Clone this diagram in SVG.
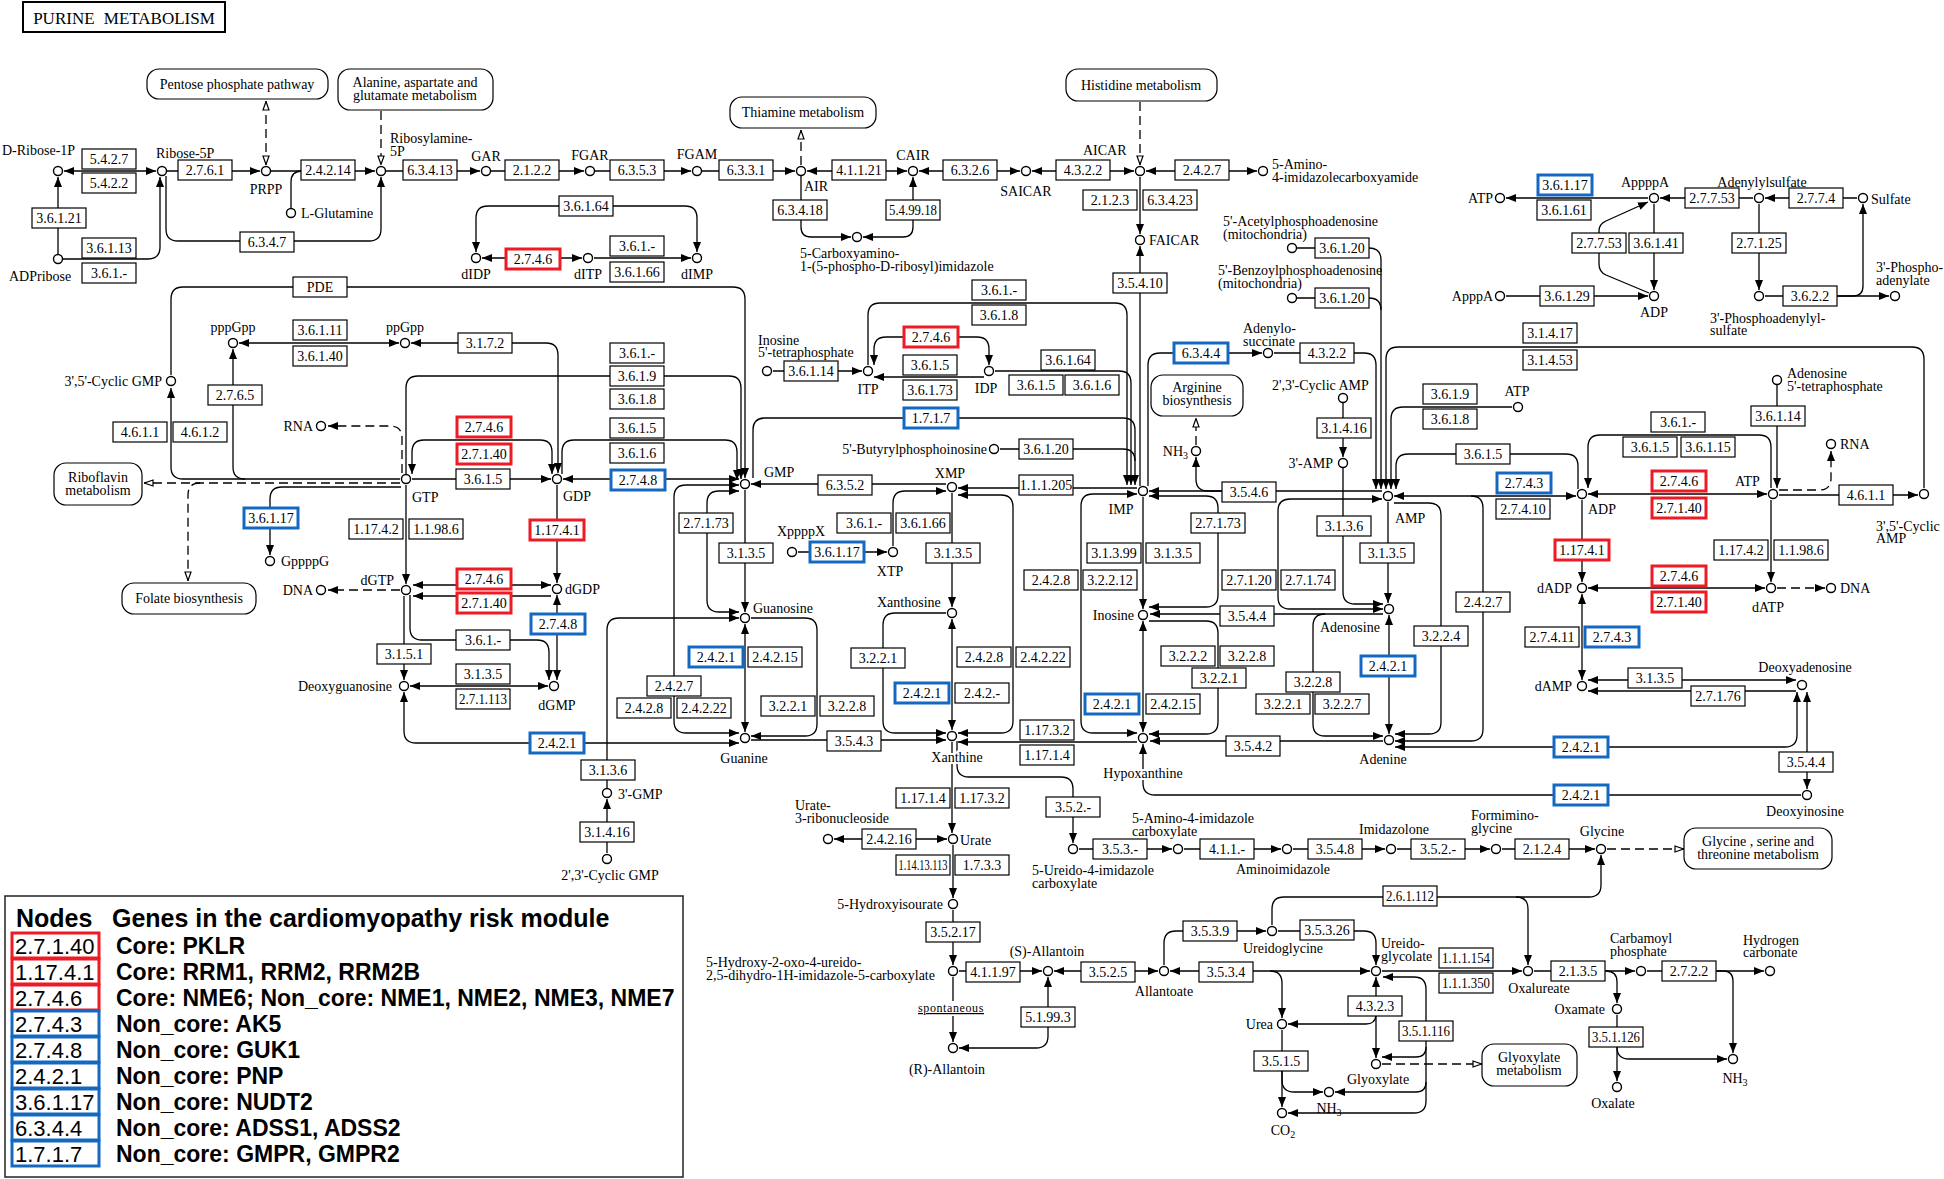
<svg xmlns="http://www.w3.org/2000/svg" width="1944" height="1179" viewBox="0 0 1944 1179">
<defs>
<style>
text{font-family:"Liberation Serif","Times New Roman",serif;font-size:14px;fill:#000}
.k rect{fill:#fff;stroke:#000;stroke-width:1.2}
.k text{text-anchor:middle}
.k.r rect{stroke:#ee1b24;stroke-width:3}
.k.b rect{stroke:#1568c1;stroke-width:3}
.n circle{fill:#fff;stroke:#000;stroke-width:1.4}
.m{text-anchor:middle}
.x{text-anchor:end}
.mp rect{fill:#fff;stroke:#000;stroke-width:1.2}
.mp text{text-anchor:middle}
.c path{fill:none;stroke:#000;stroke-width:1.3}
.c path.d{stroke-dasharray:9 5}
.e{marker-end:url(#a)}
.s{marker-start:url(#a)}
.he{marker-end:url(#h)}
.hs{marker-start:url(#h)}
.halo{paint-order:stroke;stroke:#fff;stroke-width:4px;stroke-linejoin:round}
.lg text{font-family:"Liberation Sans",Arial,sans-serif;fill:#000}
.lg .hd{font-size:25px;font-weight:bold}
.lg .ds{font-size:23px;font-weight:bold}
.lg .nm{font-size:22px}
.lg rect.rb{fill:#fff;stroke:#ee1b24;stroke-width:3}
.lg rect.bb{fill:#fff;stroke:#1568c1;stroke-width:3}
</style>
<marker id="a" viewBox="0 0 10 8" refX="10" refY="4" markerWidth="10" markerHeight="8" markerUnits="userSpaceOnUse" orient="auto-start-reverse"><path d="M0,0L10,4L0,8z" fill="#000"/></marker>
<marker id="h" viewBox="0 0 10 8" refX="10" refY="4" markerWidth="10" markerHeight="8" markerUnits="userSpaceOnUse" orient="auto-start-reverse"><path d="M1,1L9.5,4L1,7z" fill="#fff" stroke="#000" stroke-width="1.2"/></marker>
</defs>
<rect width="1944" height="1179" fill="#fff"/>

<g id="title"><rect x="23" y="2" width="202" height="30" fill="#fff" stroke="#000" stroke-width="2"/><text x="124" y="24" class="m" style="font-size:17px;word-spacing:5px">PURINE METABOLISM</text></g>

<g id="connectors" class="c">
<path class="s e" d="M64,171H156"/>
<path class="e" d="M167,171H260"/>
<path class="e" d="M271,171H375"/>
<path d="M291,208V182Q291,171 302,171"/>
<path class="e" d="M386,171H480"/>
<path class="e" d="M491,171H584"/>
<path class="e" d="M595,171H691"/>
<path class="e" d="M702,171H795"/>
<path class="s e" d="M807,171H907"/>
<path class="s e" d="M919,171H1020"/>
<path class="s e" d="M1032,171H1134"/>
<path class="s e" d="M1146,171H1257"/>
<path class="e" d="M58,254V177"/>
<path class="e" d="M63,259H148Q160,259 160,247V177"/>
<path class="e" d="M166,176V229Q166,241 178,241H369Q381,241 381,229V177"/>
<path class="d hs he" d="M266,101V165"/>
<path class="d he" d="M381,111V165"/>
<path class="d he" d="M801,165V130"/>
<path class="d he" d="M1140,102V165"/>
<path class="e" d="M801,176V227Q801,237 811,237H851"/>
<path class="s e" d="M863,237H903Q913,237 913,227V177"/>
<path class="e" d="M1140,177V234"/>
<path class="e" d="M1140,486V246"/>
<path class="s e" d="M482,258H582"/>
<path class="e" d="M594,258H691"/>
<path class="s e" d="M476,252V218Q476,206 488,206H685Q697,206 697,218V252"/>
<path class="e" d="M1648,198H1506"/>
<path class="e" d="M1753,198H1660"/>
<path class="e" d="M1857,198H1765"/>
<path class="e" d="M1759,204V290"/>
<path class="e" d="M1654,204V290"/>
<path class="e" d="M1649,293L1606,275Q1599,272 1599,264V231Q1599,224 1606,221L1648,202"/>
<path class="e" d="M1506,296H1648"/>
<path class="e" d="M1765,296H1889"/>
<path class="e" d="M1838,296H1853Q1863,296 1863,286V204"/>
<path class="e" d="M1924,488V359Q1924,347 1912,347H1398Q1386,347 1386,359V489"/>
<path class="e" d="M1297,248H1369Q1381,248 1381,260V489"/>
<path d="M1297,298H1369Q1381,298 1381,310"/>
<path class="e" d="M1148,486V365Q1148,353 1160,353H1262"/>
<path class="e" d="M1274,353H1364Q1376,353 1376,365V489"/>
<path class="e" d="M1512,407H1403Q1391,407 1391,419V489"/>
<path class="e" d="M1578,489V466Q1578,454 1566,454H1408Q1396,454 1396,466V489"/>
<path class="e" d="M1343,403V457"/>
<path class="e" d="M1343,468V592Q1343,604 1355,604H1383"/>
<path class="d he" d="M1196,445V418"/>
<path class="e" d="M1382,491H1149"/>
<path class="e" d="M1236,491H1208Q1196,491 1196,479V457"/>
<path class="e" d="M171,375V299Q171,287 183,287H733Q745,287 745,299V478"/>
<path class="e" d="M406,474V388Q406,376 418,376H729Q741,376 741,388V479"/>
<path class="e" d="M562,474V452Q562,440 574,440H725Q737,440 737,452V480"/>
<path class="s e" d="M412,474V452Q412,440 424,440H540Q552,440 552,452V474"/>
<path class="e" d="M412,479H551"/>
<path class="s e" d="M563,479H739"/>
<path class="s e" d="M411,343H546Q558,343 558,355V473"/>
<path class="s e" d="M239,343H399"/>
<path class="e" d="M400,479H245Q233,479 233,467V349"/>
<path class="e" d="M245,479H183Q171,479 171,467V388"/>
<path class="d e" d="M402,473V438Q402,426 390,426H328"/>
<path class="d he" d="M400,483H144"/>
<path class="d he" d="M200,483Q188,483 188,495V581"/>
<path class="e" d="M401,487H282Q270,487 270,499V555"/>
<path class="e" d="M406,485V584"/>
<path class="e" d="M557,485V583"/>
<path class="s e" d="M413,585H551"/>
<path class="e" d="M551,596H413"/>
<path class="d e" d="M400,590H328"/>
<path class="s e" d="M557,595V680"/>
<path class="e" d="M410,595V628Q410,640 422,640H537Q549,640 549,652V680"/>
<path class="e" d="M404,596V680"/>
<path class="s e" d="M410,686H548"/>
<path class="s e" d="M404,692V731Q404,743 416,743H739"/>
<path class="e" d="M946,484H751"/>
<path class="e" d="M745,490V612"/>
<path class="s e" d="M739,491H719Q707,491 707,503V600Q707,612 719,612H739"/>
<path class="s e" d="M739,485H686Q674,485 674,497V721Q674,733 686,733H739"/>
<path class="s e" d="M745,624V732"/>
<path class="e" d="M751,618H805Q817,618 817,630V724Q817,736 805,736H751"/>
<path class="e" d="M751,740H946"/>
<path class="e" d="M607,788V630Q607,618 619,618H739"/>
<path class="e" d="M607,853V799"/>
<path class="e" d="M753,478V430Q753,418 765,418H1123Q1135,418 1135,430V485"/>
<path class="e" d="M1137,488H958"/>
<path class="e" d="M893,546V503Q893,491 905,491H946"/>
<path class="e" d="M798,552H887"/>
<path class="e" d="M952,493V607"/>
<path class="s e" d="M952,619V730"/>
<path class="s e" d="M958,495H1001Q1013,495 1013,507V721Q1013,733 1001,733H958"/>
<path class="e" d="M946,613H895Q883,613 883,625V721Q883,733 895,733H946"/>
<path class="e" d="M1137,742H958"/>
<path class="e" d="M952,742V833"/>
<path class="e" d="M957,741V765Q957,777 969,777H1061Q1073,777 1073,789V843"/>
<path class="e" d="M868,365V315Q868,303 880,303H1115Q1127,303 1127,315V485"/>
<path class="e" d="M995,371H1119Q1131,371 1131,383V485"/>
<path d="M1000,449H1123Q1135,449 1135,461"/>
<path class="e" d="M984,377H874"/>
<path class="s e" d="M874,365V349Q874,337 886,337H977Q989,337 989,349V365"/>
<path class="e" d="M773,371H862"/>
<path class="s e" d="M1137,494H1093Q1081,494 1081,506V721Q1081,733 1093,733H1137"/>
<path class="e" d="M1143,497V609"/>
<path class="s e" d="M1149,496H1206Q1218,496 1218,508V595Q1218,607 1206,607H1149"/>
<path class="s e" d="M1143,621V732"/>
<path class="e" d="M1149,621H1206Q1218,621 1218,633V722Q1218,734 1206,734H1149"/>
<path class="e" d="M1383,614H1150"/>
<path class="e" d="M1325,614Q1313,614 1313,626V724Q1313,736 1325,736H1383"/>
<path class="e" d="M1383,741H1150"/>
<path class="s e" d="M1389,615V734"/>
<path class="e" d="M1388,502V603"/>
<path class="s e" d="M1382,499H1290Q1278,499 1278,511V597Q1278,609 1290,609H1383"/>
<path class="e" d="M1394,503H1429Q1441,503 1441,515V722Q1441,734 1429,734H1395"/>
<path class="e" d="M1471,496Q1483,496 1483,508V729Q1483,741 1471,741H1395"/>
<path class="s e" d="M1395,747H1785Q1797,747 1797,735V692"/>
<path class="s e" d="M1394,496H1576"/>
<path class="s e" d="M1588,494H1767"/>
<path class="e" d="M1771,488V447Q1771,435 1759,435H1600Q1588,435 1588,447V488"/>
<path class="e" d="M1777,385V488"/>
<path class="d e" d="M1779,490H1819Q1831,490 1831,478V451"/>
<path class="e" d="M1779,495H1918"/>
<path class="e" d="M1582,500V582"/>
<path class="e" d="M1771,500V582"/>
<path class="s e" d="M1588,588H1765"/>
<path class="d e" d="M1777,588H1825"/>
<path class="s e" d="M1582,594V680"/>
<path class="s e" d="M1588,680H1796"/>
<path class="e" d="M1796,691H1588"/>
<path class="s e" d="M1807,692V789"/>
<path class="e" d="M1801,795H1155Q1143,795 1143,783V744"/>
<path class="s e" d="M834,839H947"/>
<path class="e" d="M953,845V898"/>
<path class="e" d="M953,910V965"/>
<path class="e" d="M959,971H1042"/>
<path d="M953,977V1001"/>
<path class="e" d="M953,1016V1042"/>
<path class="s e" d="M1048,977V1036Q1048,1048 1036,1048H959"/>
<path class="s e" d="M1054,971H1158"/>
<path class="s e" d="M1170,971H1370"/>
<path class="e" d="M1164,965V943Q1164,931 1176,931H1266"/>
<path class="e" d="M1278,931H1364Q1376,931 1376,943V965"/>
<path class="e" d="M1272,925V909Q1272,897 1284,897H1589Q1601,897 1601,885V855"/>
<path class="e" d="M1516,897Q1528,897 1528,909V965"/>
<path class="e" d="M1382,971H1522"/>
<path class="e" d="M1534,971H1635"/>
<path class="e" d="M1606,971Q1617,971 1617,982V1003"/>
<path class="e" d="M1617,1015V1081"/>
<path class="e" d="M1617,1047Q1617,1059 1629,1059H1727"/>
<path class="e" d="M1647,971H1764"/>
<path class="e" d="M1717,971H1723Q1733,971 1733,981V1053"/>
<path class="d he" d="M1607,849H1684"/>
<path class="e" d="M1270,971Q1282,971 1282,983V1018"/>
<path class="s e" d="M1376,977V1058"/>
<path class="e" d="M1376,1014Q1376,1024 1366,1024H1288"/>
<path class="s e" d="M1383,977H1414Q1426,977 1426,989V1101Q1426,1113 1414,1113H1288"/>
<path class="e" d="M1426,1047Q1426,1057 1416,1057H1382"/>
<path class="e" d="M1426,1082Q1426,1092 1416,1092H1335"/>
<path class="e" d="M1282,1030V1107"/>
<path class="e" d="M1282,1071V1080Q1282,1092 1294,1092H1323"/>
<path class="d he" d="M1382,1064H1482"/>
<path class="e" d="M1079,849H1172"/>
<path class="e" d="M1184,849H1281"/>
<path class="e" d="M1293,849H1385"/>
<path class="e" d="M1397,849H1490"/>
<path class="e" d="M1502,849H1595"/>
</g>

<g id="maps">
<g id="m1" class="mp"><rect x="147" y="69" width="181" height="30" rx="12"/><text x="237" y="89">Pentose phosphate pathway</text></g>
<g id="m2" class="mp"><rect x="338" y="69" width="155" height="41" rx="12"/><text x="415" y="87">Alanine, aspartate and</text><text x="415" y="100">glutamate metabolism</text></g>
<g id="m3" class="mp"><rect x="730" y="97" width="146" height="31" rx="12"/><text x="803" y="117">Thiamine metabolism</text></g>
<g id="m4" class="mp"><rect x="1066" y="69" width="151" height="32" rx="12"/><text x="1141" y="90">Histidine metabolism</text></g>
<g id="m5" class="mp"><rect x="54" y="463" width="88" height="42" rx="12"/><text x="98" y="482">Riboflavin</text><text x="98" y="495">metabolism</text></g>
<g id="m6" class="mp"><rect x="122" y="583" width="134" height="31" rx="12"/><text x="189" y="603">Folate biosynthesis</text></g>
<g id="m7" class="mp"><rect x="1151" y="375" width="92" height="41" rx="12"/><text x="1197" y="392">Arginine</text><text x="1197" y="405">biosynthesis</text></g>
<g id="m8" class="mp"><rect x="1684" y="828" width="148" height="41" rx="12"/><text x="1758" y="846">Glycine , serine and</text><text x="1758" y="859">threonine metabolism</text></g>
<g id="m9" class="mp"><rect x="1482" y="1044" width="95" height="42" rx="12"/><text x="1529" y="1062">Glyoxylate</text><text x="1529" y="1075">metabolism</text></g>
</g>

<g id="enzymes">
<g id="e1" class="k"><rect x="82" y="149" width="54" height="20"/><text x="109" y="164">5.4.2.7</text></g>
<g id="e2" class="k"><rect x="82" y="173" width="54" height="20"/><text x="109" y="188">5.4.2.2</text></g>
<g id="e3" class="k"><rect x="178" y="160" width="54" height="20"/><text x="205" y="175">2.7.6.1</text></g>
<g id="e4" class="k"><rect x="301" y="160" width="54" height="20"/><text x="328" y="175">2.4.2.14</text></g>
<g id="e5" class="k"><rect x="403" y="160" width="54" height="20"/><text x="430" y="175">6.3.4.13</text></g>
<g id="e6" class="k"><rect x="505" y="160" width="54" height="20"/><text x="532" y="175">2.1.2.2</text></g>
<g id="e7" class="k"><rect x="610" y="160" width="54" height="20"/><text x="637" y="175">6.3.5.3</text></g>
<g id="e8" class="k"><rect x="719" y="160" width="54" height="20"/><text x="746" y="175">6.3.3.1</text></g>
<g id="e9" class="k"><rect x="832" y="160" width="54" height="20"/><text x="859" y="175">4.1.1.21</text></g>
<g id="e10" class="k"><rect x="943" y="160" width="54" height="20"/><text x="970" y="175">6.3.2.6</text></g>
<g id="e11" class="k"><rect x="1056" y="160" width="54" height="20"/><text x="1083" y="175">4.3.2.2</text></g>
<g id="e12" class="k"><rect x="1175" y="160" width="54" height="20"/><text x="1202" y="175">2.4.2.7</text></g>
<g id="e13" class="k"><rect x="32" y="208" width="54" height="20"/><text x="59" y="223">3.6.1.21</text></g>
<g id="e14" class="k"><rect x="82" y="238" width="54" height="20"/><text x="109" y="253">3.6.1.13</text></g>
<g id="e15" class="k"><rect x="82" y="263" width="54" height="20"/><text x="109" y="278">3.6.1.-</text></g>
<g id="e16" class="k"><rect x="240" y="232" width="54" height="20"/><text x="267" y="247">6.3.4.7</text></g>
<g id="e17" class="k"><rect x="773" y="200" width="54" height="20"/><text x="800" y="215">6.3.4.18</text></g>
<g id="e18" class="k"><rect x="886" y="200" width="54" height="20"/><text x="913" y="215" textLength="48" lengthAdjust="spacingAndGlyphs">5.4.99.18</text></g>
<g id="e19" class="k"><rect x="1083" y="190" width="54" height="20"/><text x="1110" y="205">2.1.2.3</text></g>
<g id="e20" class="k"><rect x="1143" y="190" width="54" height="20"/><text x="1170" y="205">6.3.4.23</text></g>
<g id="e21" class="k"><rect x="1113" y="273" width="54" height="20"/><text x="1140" y="288">3.5.4.10</text></g>
<g id="e22" class="k"><rect x="559" y="196" width="54" height="20"/><text x="586" y="211">3.6.1.64</text></g>
<g id="e23" class="k r"><rect x="506" y="249" width="54" height="20"/><text x="533" y="264">2.7.4.6</text></g>
<g id="e24" class="k"><rect x="610" y="236" width="54" height="20"/><text x="637" y="251">3.6.1.-</text></g>
<g id="e25" class="k"><rect x="610" y="262" width="54" height="20"/><text x="637" y="277">3.6.1.66</text></g>
<g id="e26" class="k"><rect x="1315" y="238" width="54" height="20"/><text x="1342" y="253">3.6.1.20</text></g>
<g id="e27" class="k"><rect x="1315" y="288" width="54" height="20"/><text x="1342" y="303">3.6.1.20</text></g>
<g id="e28" class="k b"><rect x="1538" y="175" width="54" height="20"/><text x="1565" y="190">3.6.1.17</text></g>
<g id="e29" class="k"><rect x="1537" y="200" width="54" height="20"/><text x="1564" y="215">3.6.1.61</text></g>
<g id="e30" class="k"><rect x="1685" y="188" width="54" height="20"/><text x="1712" y="203">2.7.7.53</text></g>
<g id="e31" class="k"><rect x="1789" y="188" width="54" height="20"/><text x="1816" y="203">2.7.7.4</text></g>
<g id="e32" class="k"><rect x="1572" y="233" width="54" height="20"/><text x="1599" y="248">2.7.7.53</text></g>
<g id="e33" class="k"><rect x="1629" y="233" width="54" height="20"/><text x="1656" y="248">3.6.1.41</text></g>
<g id="e34" class="k"><rect x="1732" y="233" width="54" height="20"/><text x="1759" y="248">2.7.1.25</text></g>
<g id="e35" class="k"><rect x="1540" y="286" width="54" height="20"/><text x="1567" y="301">3.6.1.29</text></g>
<g id="e36" class="k"><rect x="1783" y="286" width="54" height="20"/><text x="1810" y="301">3.6.2.2</text></g>
<g id="e37" class="k"><rect x="1523" y="323" width="54" height="20"/><text x="1550" y="338">3.1.4.17</text></g>
<g id="e38" class="k"><rect x="1523" y="350" width="54" height="20"/><text x="1550" y="365">3.1.4.53</text></g>
<g id="e39" class="k"><rect x="293" y="277" width="54" height="20"/><text x="320" y="292">PDE</text></g>
<g id="e40" class="k"><rect x="293" y="320" width="54" height="20"/><text x="320" y="335">3.6.1.11</text></g>
<g id="e41" class="k"><rect x="293" y="346" width="54" height="20"/><text x="320" y="361">3.6.1.40</text></g>
<g id="e42" class="k"><rect x="458" y="333" width="54" height="20"/><text x="485" y="348">3.1.7.2</text></g>
<g id="e43" class="k"><rect x="610" y="343" width="54" height="20"/><text x="637" y="358">3.6.1.-</text></g>
<g id="e44" class="k"><rect x="610" y="366" width="54" height="20"/><text x="637" y="381">3.6.1.9</text></g>
<g id="e45" class="k"><rect x="610" y="389" width="54" height="20"/><text x="637" y="404">3.6.1.8</text></g>
<g id="e46" class="k"><rect x="784" y="361" width="54" height="20"/><text x="811" y="376">3.6.1.14</text></g>
<g id="e47" class="k r"><rect x="904" y="327" width="54" height="20"/><text x="931" y="342">2.7.4.6</text></g>
<g id="e48" class="k"><rect x="903" y="355" width="54" height="20"/><text x="930" y="370">3.6.1.5</text></g>
<g id="e49" class="k"><rect x="903" y="380" width="54" height="20"/><text x="930" y="395">3.6.1.73</text></g>
<g id="e50" class="k"><rect x="972" y="280" width="54" height="20"/><text x="999" y="295">3.6.1.-</text></g>
<g id="e51" class="k"><rect x="972" y="305" width="54" height="20"/><text x="999" y="320">3.6.1.8</text></g>
<g id="e52" class="k"><rect x="1041" y="350" width="54" height="20"/><text x="1068" y="365">3.6.1.64</text></g>
<g id="e53" class="k"><rect x="1009" y="375" width="54" height="20"/><text x="1036" y="390">3.6.1.5</text></g>
<g id="e54" class="k"><rect x="1065" y="375" width="54" height="20"/><text x="1092" y="390">3.6.1.6</text></g>
<g id="e55" class="k b"><rect x="1174" y="343" width="54" height="20"/><text x="1201" y="358">6.3.4.4</text></g>
<g id="e56" class="k"><rect x="1300" y="343" width="54" height="20"/><text x="1327" y="358">4.3.2.2</text></g>
<g id="e57" class="k"><rect x="208" y="385" width="54" height="20"/><text x="235" y="400">2.7.6.5</text></g>
<g id="e58" class="k"><rect x="113" y="422" width="54" height="20"/><text x="140" y="437">4.6.1.1</text></g>
<g id="e59" class="k"><rect x="173" y="422" width="54" height="20"/><text x="200" y="437">4.6.1.2</text></g>
<g id="e60" class="k r"><rect x="457" y="417" width="54" height="20"/><text x="484" y="432">2.7.4.6</text></g>
<g id="e61" class="k r"><rect x="457" y="444" width="54" height="20"/><text x="484" y="459">2.7.1.40</text></g>
<g id="e62" class="k"><rect x="456" y="469" width="54" height="20"/><text x="483" y="484">3.6.1.5</text></g>
<g id="e63" class="k"><rect x="610" y="418" width="54" height="20"/><text x="637" y="433">3.6.1.5</text></g>
<g id="e64" class="k"><rect x="610" y="443" width="54" height="20"/><text x="637" y="458">3.6.1.6</text></g>
<g id="e65" class="k b"><rect x="611" y="470" width="54" height="20"/><text x="638" y="485">2.7.4.8</text></g>
<g id="e66" class="k b"><rect x="904" y="408" width="54" height="20"/><text x="931" y="423">1.7.1.7</text></g>
<g id="e67" class="k"><rect x="1019" y="439" width="54" height="20"/><text x="1046" y="454">3.6.1.20</text></g>
<g id="e68" class="k"><rect x="818" y="475" width="54" height="20"/><text x="845" y="490">6.3.5.2</text></g>
<g id="e69" class="k"><rect x="1019" y="475" width="54" height="20"/><text x="1046" y="490">1.1.1.205</text></g>
<g id="e70" class="k"><rect x="1222" y="482" width="54" height="20"/><text x="1249" y="497">3.5.4.6</text></g>
<g id="e71" class="k"><rect x="1317" y="418" width="54" height="20"/><text x="1344" y="433">3.1.4.16</text></g>
<g id="e72" class="k"><rect x="1423" y="384" width="54" height="20"/><text x="1450" y="399">3.6.1.9</text></g>
<g id="e73" class="k"><rect x="1423" y="409" width="54" height="20"/><text x="1450" y="424">3.6.1.8</text></g>
<g id="e74" class="k"><rect x="1456" y="444" width="54" height="20"/><text x="1483" y="459">3.6.1.5</text></g>
<g id="e75" class="k b"><rect x="1497" y="473" width="54" height="20"/><text x="1524" y="488">2.7.4.3</text></g>
<g id="e76" class="k"><rect x="1496" y="499" width="54" height="20"/><text x="1523" y="514">2.7.4.10</text></g>
<g id="e77" class="k"><rect x="1651" y="412" width="54" height="20"/><text x="1678" y="427">3.6.1.-</text></g>
<g id="e78" class="k"><rect x="1623" y="437" width="54" height="20"/><text x="1650" y="452">3.6.1.5</text></g>
<g id="e79" class="k"><rect x="1681" y="437" width="54" height="20"/><text x="1708" y="452">3.6.1.15</text></g>
<g id="e80" class="k"><rect x="1751" y="406" width="54" height="20"/><text x="1778" y="421">3.6.1.14</text></g>
<g id="e81" class="k r"><rect x="1652" y="471" width="54" height="20"/><text x="1679" y="486">2.7.4.6</text></g>
<g id="e82" class="k r"><rect x="1652" y="498" width="54" height="20"/><text x="1679" y="513">2.7.1.40</text></g>
<g id="e83" class="k"><rect x="1839" y="485" width="54" height="20"/><text x="1866" y="500">4.6.1.1</text></g>
<g id="e84" class="k b"><rect x="244" y="508" width="54" height="20"/><text x="271" y="523">3.6.1.17</text></g>
<g id="e85" class="k"><rect x="349" y="519" width="54" height="20"/><text x="376" y="534">1.17.4.2</text></g>
<g id="e86" class="k"><rect x="409" y="519" width="54" height="20"/><text x="436" y="534">1.1.98.6</text></g>
<g id="e87" class="k r"><rect x="530" y="520" width="54" height="20"/><text x="557" y="535">1.17.4.1</text></g>
<g id="e88" class="k"><rect x="679" y="513" width="54" height="20"/><text x="706" y="528">2.7.1.73</text></g>
<g id="e89" class="k"><rect x="719" y="543" width="54" height="20"/><text x="746" y="558">3.1.3.5</text></g>
<g id="e90" class="k b"><rect x="810" y="542" width="54" height="20"/><text x="837" y="557">3.6.1.17</text></g>
<g id="e91" class="k"><rect x="837" y="513" width="54" height="20"/><text x="864" y="528">3.6.1.-</text></g>
<g id="e92" class="k"><rect x="896" y="513" width="54" height="20"/><text x="923" y="528">3.6.1.66</text></g>
<g id="e93" class="k"><rect x="926" y="543" width="54" height="20"/><text x="953" y="558">3.1.3.5</text></g>
<g id="e94" class="k"><rect x="1191" y="513" width="54" height="20"/><text x="1218" y="528">2.7.1.73</text></g>
<g id="e95" class="k"><rect x="1317" y="516" width="54" height="20"/><text x="1344" y="531">3.1.3.6</text></g>
<g id="e96" class="k"><rect x="1087" y="543" width="54" height="20"/><text x="1114" y="558">3.1.3.99</text></g>
<g id="e97" class="k"><rect x="1146" y="543" width="54" height="20"/><text x="1173" y="558">3.1.3.5</text></g>
<g id="e98" class="k"><rect x="1360" y="543" width="54" height="20"/><text x="1387" y="558">3.1.3.5</text></g>
<g id="e99" class="k"><rect x="1024" y="570" width="54" height="20"/><text x="1051" y="585">2.4.2.8</text></g>
<g id="e100" class="k"><rect x="1083" y="570" width="54" height="20"/><text x="1110" y="585">3.2.2.12</text></g>
<g id="e101" class="k"><rect x="1222" y="570" width="54" height="20"/><text x="1249" y="585">2.7.1.20</text></g>
<g id="e102" class="k"><rect x="1281" y="570" width="54" height="20"/><text x="1308" y="585">2.7.1.74</text></g>
<g id="e103" class="k r"><rect x="1555" y="540" width="54" height="20"/><text x="1582" y="555">1.17.4.1</text></g>
<g id="e104" class="k"><rect x="1714" y="540" width="54" height="20"/><text x="1741" y="555">1.17.4.2</text></g>
<g id="e105" class="k"><rect x="1774" y="540" width="54" height="20"/><text x="1801" y="555">1.1.98.6</text></g>
<g id="e106" class="k r"><rect x="457" y="569" width="54" height="20"/><text x="484" y="584">2.7.4.6</text></g>
<g id="e107" class="k r"><rect x="457" y="593" width="54" height="20"/><text x="484" y="608">2.7.1.40</text></g>
<g id="e108" class="k b"><rect x="531" y="614" width="54" height="20"/><text x="558" y="629">2.7.4.8</text></g>
<g id="e109" class="k"><rect x="456" y="630" width="54" height="20"/><text x="483" y="645">3.6.1.-</text></g>
<g id="e110" class="k"><rect x="377" y="644" width="54" height="20"/><text x="404" y="659">3.1.5.1</text></g>
<g id="e111" class="k"><rect x="456" y="664" width="54" height="20"/><text x="483" y="679">3.1.3.5</text></g>
<g id="e112" class="k"><rect x="456" y="689" width="54" height="20"/><text x="483" y="704" textLength="48" lengthAdjust="spacingAndGlyphs">2.7.1.113</text></g>
<g id="e113" class="k b"><rect x="689" y="647" width="54" height="20"/><text x="716" y="662">2.4.2.1</text></g>
<g id="e114" class="k"><rect x="748" y="647" width="54" height="20"/><text x="775" y="662">2.4.2.15</text></g>
<g id="e115" class="k"><rect x="851" y="648" width="54" height="20"/><text x="878" y="663">3.2.2.1</text></g>
<g id="e116" class="k"><rect x="957" y="647" width="54" height="20"/><text x="984" y="662">2.4.2.8</text></g>
<g id="e117" class="k"><rect x="1016" y="647" width="54" height="20"/><text x="1043" y="662">2.4.2.22</text></g>
<g id="e118" class="k b"><rect x="895" y="683" width="54" height="20"/><text x="922" y="698">2.4.2.1</text></g>
<g id="e119" class="k"><rect x="955" y="683" width="54" height="20"/><text x="982" y="698">2.4.2.-</text></g>
<g id="e120" class="k"><rect x="647" y="676" width="54" height="20"/><text x="674" y="691">2.4.2.7</text></g>
<g id="e121" class="k"><rect x="617" y="698" width="54" height="20"/><text x="644" y="713">2.4.2.8</text></g>
<g id="e122" class="k"><rect x="677" y="698" width="54" height="20"/><text x="704" y="713">2.4.2.22</text></g>
<g id="e123" class="k"><rect x="761" y="696" width="54" height="20"/><text x="788" y="711">3.2.2.1</text></g>
<g id="e124" class="k"><rect x="820" y="696" width="54" height="20"/><text x="847" y="711">3.2.2.8</text></g>
<g id="e125" class="k"><rect x="827" y="731" width="54" height="20"/><text x="854" y="746">3.5.4.3</text></g>
<g id="e126" class="k b"><rect x="530" y="733" width="54" height="20"/><text x="557" y="748">2.4.2.1</text></g>
<g id="e127" class="k"><rect x="581" y="760" width="54" height="20"/><text x="608" y="775">3.1.3.6</text></g>
<g id="e128" class="k"><rect x="580" y="822" width="54" height="20"/><text x="607" y="837">3.1.4.16</text></g>
<g id="e129" class="k"><rect x="1220" y="606" width="54" height="20"/><text x="1247" y="621">3.5.4.4</text></g>
<g id="e130" class="k"><rect x="1414" y="626" width="54" height="20"/><text x="1441" y="641">3.2.2.4</text></g>
<g id="e131" class="k"><rect x="1456" y="592" width="54" height="20"/><text x="1483" y="607">2.4.2.7</text></g>
<g id="e132" class="k r"><rect x="1652" y="566" width="54" height="20"/><text x="1679" y="581">2.7.4.6</text></g>
<g id="e133" class="k r"><rect x="1652" y="592" width="54" height="20"/><text x="1679" y="607">2.7.1.40</text></g>
<g id="e134" class="k"><rect x="1525" y="627" width="54" height="20"/><text x="1552" y="642">2.7.4.11</text></g>
<g id="e135" class="k b"><rect x="1585" y="627" width="54" height="20"/><text x="1612" y="642">2.7.4.3</text></g>
<g id="e136" class="k"><rect x="1628" y="668" width="54" height="20"/><text x="1655" y="683">3.1.3.5</text></g>
<g id="e137" class="k"><rect x="1691" y="686" width="54" height="20"/><text x="1718" y="701">2.7.1.76</text></g>
<g id="e138" class="k"><rect x="1161" y="646" width="54" height="20"/><text x="1188" y="661">3.2.2.2</text></g>
<g id="e139" class="k"><rect x="1220" y="646" width="54" height="20"/><text x="1247" y="661">3.2.2.8</text></g>
<g id="e140" class="k"><rect x="1192" y="668" width="54" height="20"/><text x="1219" y="683">3.2.2.1</text></g>
<g id="e141" class="k b"><rect x="1361" y="656" width="54" height="20"/><text x="1388" y="671">2.4.2.1</text></g>
<g id="e142" class="k"><rect x="1286" y="672" width="54" height="20"/><text x="1313" y="687">3.2.2.8</text></g>
<g id="e143" class="k"><rect x="1256" y="694" width="54" height="20"/><text x="1283" y="709">3.2.2.1</text></g>
<g id="e144" class="k"><rect x="1315" y="694" width="54" height="20"/><text x="1342" y="709">3.2.2.7</text></g>
<g id="e145" class="k b"><rect x="1085" y="694" width="54" height="20"/><text x="1112" y="709">2.4.2.1</text></g>
<g id="e146" class="k"><rect x="1146" y="694" width="54" height="20"/><text x="1173" y="709">2.4.2.15</text></g>
<g id="e147" class="k"><rect x="1020" y="720" width="54" height="20"/><text x="1047" y="735">1.17.3.2</text></g>
<g id="e148" class="k"><rect x="1020" y="745" width="54" height="20"/><text x="1047" y="760">1.17.1.4</text></g>
<g id="e149" class="k"><rect x="1226" y="736" width="54" height="20"/><text x="1253" y="751">3.5.4.2</text></g>
<g id="e150" class="k b"><rect x="1554" y="737" width="54" height="20"/><text x="1581" y="752">2.4.2.1</text></g>
<g id="e151" class="k"><rect x="1779" y="752" width="54" height="20"/><text x="1806" y="767">3.5.4.4</text></g>
<g id="e152" class="k b"><rect x="1554" y="785" width="54" height="20"/><text x="1581" y="800">2.4.2.1</text></g>
<g id="e153" class="k"><rect x="896" y="788" width="54" height="20"/><text x="923" y="803">1.17.1.4</text></g>
<g id="e154" class="k"><rect x="955" y="788" width="54" height="20"/><text x="982" y="803">1.17.3.2</text></g>
<g id="e155" class="k"><rect x="1046" y="797" width="54" height="20"/><text x="1073" y="812">3.5.2.-</text></g>
<g id="e156" class="k"><rect x="862" y="829" width="54" height="20"/><text x="889" y="844">2.4.2.16</text></g>
<g id="e157" class="k"><rect x="896" y="855" width="54" height="20"/><text x="923" y="870" textLength="49" lengthAdjust="spacingAndGlyphs">1.14.13.113</text></g>
<g id="e158" class="k"><rect x="955" y="855" width="54" height="20"/><text x="982" y="870">1.7.3.3</text></g>
<g id="e159" class="k"><rect x="1093" y="839" width="54" height="20"/><text x="1120" y="854">3.5.3.-</text></g>
<g id="e160" class="k"><rect x="1200" y="839" width="54" height="20"/><text x="1227" y="854">4.1.1.-</text></g>
<g id="e161" class="k"><rect x="1308" y="839" width="54" height="20"/><text x="1335" y="854">3.5.4.8</text></g>
<g id="e162" class="k"><rect x="1411" y="839" width="54" height="20"/><text x="1438" y="854">3.5.2.-</text></g>
<g id="e163" class="k"><rect x="1515" y="839" width="54" height="20"/><text x="1542" y="854">2.1.2.4</text></g>
<g id="e164" class="k"><rect x="1383" y="886" width="54" height="20"/><text x="1410" y="901" textLength="48" lengthAdjust="spacingAndGlyphs">2.6.1.112</text></g>
<g id="e165" class="k"><rect x="926" y="922" width="54" height="20"/><text x="953" y="937">3.5.2.17</text></g>
<g id="e166" class="k"><rect x="966" y="962" width="54" height="20"/><text x="993" y="977">4.1.1.97</text></g>
<g id="e167" class="k"><rect x="1081" y="962" width="54" height="20"/><text x="1108" y="977">3.5.2.5</text></g>
<g id="e168" class="k"><rect x="1021" y="1007" width="54" height="20"/><text x="1048" y="1022">5.1.99.3</text></g>
<g id="e169" class="k"><rect x="1183" y="921" width="54" height="20"/><text x="1210" y="936">3.5.3.9</text></g>
<g id="e170" class="k"><rect x="1300" y="920" width="54" height="20"/><text x="1327" y="935">3.5.3.26</text></g>
<g id="e171" class="k"><rect x="1199" y="962" width="54" height="20"/><text x="1226" y="977">3.5.3.4</text></g>
<g id="e172" class="k"><rect x="1439" y="948" width="54" height="20"/><text x="1466" y="963" textLength="48" lengthAdjust="spacingAndGlyphs">1.1.1.154</text></g>
<g id="e173" class="k"><rect x="1439" y="973" width="54" height="20"/><text x="1466" y="988" textLength="48" lengthAdjust="spacingAndGlyphs">1.1.1.350</text></g>
<g id="e174" class="k"><rect x="1551" y="961" width="54" height="20"/><text x="1578" y="976">2.1.3.5</text></g>
<g id="e175" class="k"><rect x="1662" y="961" width="54" height="20"/><text x="1689" y="976">2.7.2.2</text></g>
<g id="e176" class="k"><rect x="1348" y="996" width="54" height="20"/><text x="1375" y="1011">4.3.2.3</text></g>
<g id="e177" class="k"><rect x="1399" y="1021" width="54" height="20"/><text x="1426" y="1036" textLength="48" lengthAdjust="spacingAndGlyphs">3.5.1.116</text></g>
<g id="e178" class="k"><rect x="1254" y="1051" width="54" height="20"/><text x="1281" y="1066">3.5.1.5</text></g>
<g id="e179" class="k"><rect x="1589" y="1027" width="54" height="20"/><text x="1616" y="1042" textLength="48" lengthAdjust="spacingAndGlyphs">3.5.1.126</text></g>
</g>

<g id="compounds">
<g id="c1" class="n"><circle cx="58" cy="171" r="4.5"/><text x="2" y="155">D-Ribose-1P</text></g>
<g id="c2" class="n"><circle cx="162" cy="171" r="4.5"/><text x="156" y="158">Ribose-5P</text></g>
<g id="c3" class="n"><circle cx="266" cy="171" r="4.5"/><text x="266" y="194" class="m">PRPP</text></g>
<g id="c4" class="n"><circle cx="381" cy="171" r="4.5"/><text x="390" y="143">Ribosylamine-</text><text x="390" y="156">5P</text></g>
<g id="c5" class="n"><circle cx="486" cy="171" r="4.5"/><text x="486" y="161" class="m">GAR</text></g>
<g id="c6" class="n"><circle cx="291" cy="213" r="4.5"/><text x="301" y="218">L-Glutamine</text></g>
<g id="c7" class="n"><circle cx="58" cy="259" r="4.5"/><text x="9" y="281">ADPribose</text></g>
<g id="c8" class="n"><circle cx="590" cy="171" r="4.5"/><text x="590" y="160" class="m">FGAR</text></g>
<g id="c9" class="n"><circle cx="697" cy="171" r="4.5"/><text x="697" y="159" class="m">FGAM</text></g>
<g id="c10" class="n"><circle cx="801" cy="171" r="4.5"/><text x="804" y="191">AIR</text></g>
<g id="c11" class="n"><circle cx="913" cy="171" r="4.5"/><text x="913" y="160" class="m">CAIR</text></g>
<g id="c12" class="n"><circle cx="1026" cy="171" r="4.5"/><text x="1026" y="196" class="m">SAICAR</text></g>
<g id="c13" class="n"><circle cx="1140" cy="171" r="4.5"/><text x="1083" y="155">AICAR</text></g>
<g id="c14" class="n"><circle cx="1263" cy="171" r="4.5"/><text x="1272" y="169">5-Amino-</text><text x="1272" y="182">4-imidazolecarboxyamide</text></g>
<g id="c15" class="n"><circle cx="1140" cy="240" r="4.5"/><text x="1149" y="245">FAICAR</text></g>
<g id="c16" class="n"><circle cx="857" cy="237" r="4.5"/><text x="800" y="258">5-Carboxyamino-</text><text x="800" y="271">1-(5-phospho-D-ribosyl)imidazole</text></g>
<g id="c17" class="n"><circle cx="476" cy="258" r="4.5"/><text x="476" y="279" class="m">dIDP</text></g>
<g id="c18" class="n"><circle cx="588" cy="258" r="4.5"/><text x="588" y="279" class="m">dITP</text></g>
<g id="c19" class="n"><circle cx="697" cy="258" r="4.5"/><text x="697" y="279" class="m">dIMP</text></g>
<g id="c20" class="n"><circle cx="1292" cy="248" r="4.5"/><text x="1223" y="226">5'-Acetylphosphoadenosine</text><text x="1223" y="239">(mitochondria)</text></g>
<g id="c21" class="n"><circle cx="1292" cy="298" r="4.5"/><text x="1218" y="275">5'-Benzoylphosphoadenosine</text><text x="1218" y="288">(mitochondria)</text></g>
<g id="c22" class="n"><circle cx="1500" cy="198" r="4.5"/><text x="1493" y="203" class="x">ATP</text></g>
<g id="c23" class="n"><circle cx="1654" cy="198" r="4.5"/><text x="1645" y="187" class="m">AppppA</text></g>
<g id="c24" class="n"><circle cx="1759" cy="198" r="4.5"/><text x="1762" y="187" class="m">Adenylylsulfate</text></g>
<g id="c25" class="n"><circle cx="1863" cy="198" r="4.5"/><text x="1871" y="204">Sulfate</text></g>
<g id="c26" class="n"><circle cx="1654" cy="296" r="4.5"/><text x="1654" y="317" class="m">ADP</text></g>
<g id="c27" class="n"><circle cx="1500" cy="296" r="4.5"/><text x="1493" y="301" class="x">ApppA</text></g>
<g id="c28" class="n"><circle cx="1759" cy="296" r="4.5"/><text x="1710" y="323">3'-Phosphoadenylyl-</text><text x="1710" y="335">sulfate</text></g>
<g id="c29" class="n"><circle cx="1895" cy="296" r="4.5"/><text x="1876" y="272">3'-Phospho-</text><text x="1876" y="285">adenylate</text></g>
<g id="c30" class="n"><circle cx="233" cy="343" r="4.5"/><text x="233" y="332" class="m">pppGpp</text></g>
<g id="c31" class="n"><circle cx="405" cy="343" r="4.5"/><text x="405" y="332" class="m">ppGpp</text></g>
<g id="c32" class="n"><circle cx="171" cy="381" r="4.5"/><text x="162" y="386" class="x">3',5'-Cyclic GMP</text></g>
<g id="c33" class="n"><circle cx="767" cy="371" r="4.5"/><text x="758" y="345">Inosine</text><text x="758" y="357">5'-tetraphosphate</text></g>
<g id="c34" class="n"><circle cx="868" cy="371" r="4.5"/><text x="868" y="394" class="m">ITP</text></g>
<g id="c35" class="n"><circle cx="989" cy="371" r="4.5"/><text x="986" y="393" class="m">IDP</text></g>
<g id="c36" class="n"><circle cx="1268" cy="353" r="4.5"/><text x="1243" y="333">Adenylo-</text><text x="1243" y="346">succinate</text></g>
<g id="c37" class="n"><circle cx="1343" cy="398" r="4.5"/><text x="1272" y="390">2',3'-Cyclic AMP</text></g>
<g id="c38" class="n"><circle cx="1343" cy="463" r="4.5"/><text x="1333" y="468" class="x">3'-AMP</text></g>
<g id="c39" class="n"><circle cx="1196" cy="451" r="4.5"/><text x="1188" y="456" class="x">NH<tspan font-size="10" dy="3">3</tspan></text></g>
<g id="c40" class="n"><circle cx="994" cy="449" r="4.5"/><text x="987" y="454" class="x">5'-Butyrylphosphoinosine</text></g>
<g id="c41" class="n"><circle cx="321" cy="426" r="4.5"/><text x="313" y="431" class="x">RNA</text></g>
<g id="c42" class="n"><circle cx="406" cy="479" r="4.5"/><text x="412" y="502">GTP</text></g>
<g id="c43" class="n"><circle cx="557" cy="479" r="4.5"/><text x="563" y="501">GDP</text></g>
<g id="c44" class="n"><circle cx="745" cy="484" r="4.5"/><text x="764" y="477">GMP</text></g>
<g id="c45" class="n"><circle cx="952" cy="487" r="4.5"/><text x="950" y="478" class="m">XMP</text></g>
<g id="c46" class="n"><circle cx="1143" cy="491" r="4.5"/><text x="1121" y="514" class="m">IMP</text></g>
<g id="c47" class="n"><circle cx="1388" cy="496" r="4.5"/><text x="1395" y="523">AMP</text></g>
<g id="c48" class="n"><circle cx="1582" cy="494" r="4.5"/><text x="1588" y="514">ADP</text></g>
<g id="c49" class="n"><circle cx="1773" cy="494" r="4.5"/><text x="1735" y="486">ATP</text></g>
<g id="c50" class="n"><circle cx="1924" cy="494" r="4.5"/><text x="1876" y="531">3',5'-Cyclic</text><text x="1876" y="543">AMP</text></g>
<g id="c51" class="n"><circle cx="1518" cy="407" r="4.5"/><text x="1517" y="396" class="m">ATP</text></g>
<g id="c52" class="n"><circle cx="1777" cy="380" r="4.5"/><text x="1787" y="378">Adenosine</text><text x="1787" y="391">5'-tetraphosphate</text></g>
<g id="c53" class="n"><circle cx="1831" cy="444" r="4.5"/><text x="1840" y="449">RNA</text></g>
<g id="c54" class="n"><circle cx="270" cy="561" r="4.5"/><text x="281" y="566">GppppG</text></g>
<g id="c55" class="n"><circle cx="321" cy="590" r="4.5"/><text x="313" y="595" class="x">DNA</text></g>
<g id="c56" class="n"><circle cx="406" cy="590" r="4.5"/><text x="394" y="585" class="x">dGTP</text></g>
<g id="c57" class="n"><circle cx="557" cy="589" r="4.5"/><text x="565" y="594">dGDP</text></g>
<g id="c58" class="n"><circle cx="792" cy="552" r="4.5"/><text x="777" y="536">XppppX</text></g>
<g id="c59" class="n"><circle cx="893" cy="552" r="4.5"/><text x="890" y="576" class="m">XTP</text></g>
<g id="c60" class="n"><circle cx="745" cy="618" r="4.5"/><text x="753" y="613">Guanosine</text></g>
<g id="c61" class="n"><circle cx="952" cy="613" r="4.5"/><text x="877" y="607">Xanthosine</text></g>
<g id="c62" class="n"><circle cx="1143" cy="615" r="4.5"/><text x="1134" y="620" class="x">Inosine</text></g>
<g id="c63" class="n"><circle cx="1389" cy="609" r="4.5"/><text x="1320" y="632">Adenosine</text></g>
<g id="c64" class="n"><circle cx="1582" cy="588" r="4.5"/><text x="1572" y="593" class="x">dADP</text></g>
<g id="c65" class="n"><circle cx="1771" cy="588" r="4.5"/><text x="1768" y="612" class="m">dATP</text></g>
<g id="c66" class="n"><circle cx="1831" cy="588" r="4.5"/><text x="1840" y="593">DNA</text></g>
<g id="c67" class="n"><circle cx="554" cy="686" r="4.5"/><text x="557" y="710" class="m">dGMP</text></g>
<g id="c68" class="n"><circle cx="404" cy="686" r="4.5"/><text x="392" y="691" class="x">Deoxyguanosine</text></g>
<g id="c69" class="n"><circle cx="1582" cy="686" r="4.5"/><text x="1572" y="691" class="x">dAMP</text></g>
<g id="c70" class="n"><circle cx="1802" cy="685" r="4.5"/><text x="1805" y="672" class="m">Deoxyadenosine</text></g>
<g id="c71" class="n"><circle cx="745" cy="738" r="4.5"/><text x="744" y="763" class="m">Guanine</text></g>
<g id="c72" class="n"><circle cx="952" cy="736" r="4.5"/><text x="957" y="762" class="m halo">Xanthine</text></g>
<g id="c73" class="n"><circle cx="1143" cy="738" r="4.5"/><text x="1143" y="778" class="m halo">Hypoxanthine</text></g>
<g id="c74" class="n"><circle cx="1389" cy="740" r="4.5"/><text x="1383" y="764" class="m">Adenine</text></g>
<g id="c75" class="n"><circle cx="1807" cy="795" r="4.5"/><text x="1805" y="816" class="m">Deoxyinosine</text></g>
<g id="c76" class="n"><circle cx="607" cy="793" r="4.5"/><text x="618" y="799">3'-GMP</text></g>
<g id="c77" class="n"><circle cx="607" cy="859" r="4.5"/><text x="610" y="880" class="m">2',3'-Cyclic GMP</text></g>
<g id="c78" class="n"><circle cx="828" cy="839" r="4.5"/><text x="795" y="810">Urate-</text><text x="795" y="823">3-ribonucleoside</text></g>
<g id="c79" class="n"><circle cx="953" cy="839" r="4.5"/><text x="960" y="845">Urate</text></g>
<g id="c80" class="n"><circle cx="953" cy="904" r="4.5"/><text x="943" y="909" class="x">5-Hydroxyisourate</text></g>
<g id="c81" class="n"><circle cx="953" cy="971" r="4.5"/><text x="706" y="967">5-Hydroxy-2-oxo-4-ureido-</text><text x="706" y="980">2,5-dihydro-1H-imidazole-5-carboxylate</text></g>
<g id="c82" class="n"><circle cx="1048" cy="971" r="4.5"/><text x="1047" y="956" class="m">(S)-Allantoin</text></g>
<g id="c83" class="n"><circle cx="953" cy="1048" r="4.5"/><text x="947" y="1074" class="m">(R)-Allantoin</text></g>
<g id="c84" class="n"><circle cx="1164" cy="971" r="4.5"/><text x="1164" y="996" class="m">Allantoate</text></g>
<g id="c85" class="n"><circle cx="1073" cy="849" r="4.5"/><text x="1032" y="875">5-Ureido-4-imidazole</text><text x="1032" y="888">carboxylate</text></g>
<g id="c86" class="n"><circle cx="1178" cy="849" r="4.5"/><text x="1132" y="823">5-Amino-4-imidazole</text><text x="1132" y="836">carboxylate</text></g>
<g id="c87" class="n"><circle cx="1287" cy="849" r="4.5"/><text x="1283" y="874" class="m">Aminoimidazole</text></g>
<g id="c88" class="n"><circle cx="1391" cy="849" r="4.5"/><text x="1394" y="834" class="m">Imidazolone</text></g>
<g id="c89" class="n"><circle cx="1496" cy="849" r="4.5"/><text x="1471" y="820">Formimino-</text><text x="1471" y="833">glycine</text></g>
<g id="c90" class="n"><circle cx="1601" cy="849" r="4.5"/><text x="1602" y="836" class="m">Glycine</text></g>
<g id="c91" class="n"><circle cx="1272" cy="931" r="4.5"/><text x="1283" y="953" class="m">Ureidoglycine</text></g>
<g id="c92" class="n"><circle cx="1376" cy="971" r="4.5"/><text x="1381" y="948">Ureido-</text><text x="1381" y="961">glycolate</text></g>
<g id="c93" class="n"><circle cx="1528" cy="971" r="4.5"/><text x="1539" y="993" class="m">Oxalureate</text></g>
<g id="c94" class="n"><circle cx="1641" cy="971" r="4.5"/><text x="1610" y="943">Carbamoyl</text><text x="1610" y="956">phosphate</text></g>
<g id="c95" class="n"><circle cx="1770" cy="971" r="4.5"/><text x="1743" y="945">Hydrogen</text><text x="1743" y="957">carbonate</text></g>
<g id="c96" class="n"><circle cx="1617" cy="1009" r="4.5"/><text x="1605" y="1014" class="x">Oxamate</text></g>
<g id="c97" class="n"><circle cx="1617" cy="1087" r="4.5"/><text x="1613" y="1108" class="m">Oxalate</text></g>
<g id="c98" class="n"><circle cx="1733" cy="1059" r="4.5"/><text x="1735" y="1083" class="m">NH<tspan font-size="10" dy="3">3</tspan></text></g>
<g id="c99" class="n"><circle cx="1282" cy="1024" r="4.5"/><text x="1273" y="1029" class="x">Urea</text></g>
<g id="c100" class="n"><circle cx="1376" cy="1064" r="4.5"/><text x="1378" y="1084" class="m">Glyoxylate</text></g>
<g id="c101" class="n"><circle cx="1329" cy="1092" r="4.5"/><text x="1329" y="1113" class="m">NH<tspan font-size="10" dy="3">3</tspan></text></g>
<g id="c102" class="n"><circle cx="1282" cy="1113" r="4.5"/><text x="1283" y="1135" class="m">CO<tspan font-size="10" dy="3">2</tspan></text></g>
<text x="951" y="1012" class="m" style="font-size:12px;text-decoration:underline;letter-spacing:0.6px">spontaneous</text>
</g>

<g id="legend" class="lg">
<rect x="5" y="896" width="678" height="281" fill="#fff" stroke="#222" stroke-width="1.5"/>
<text x="16" y="927" class="hd">Nodes</text>
<text x="112" y="927" class="hd">Genes in the cardiomyopathy risk module</text>
<g id="lg1"><rect class="rb" x="12" y="933" width="87" height="25"/><text x="15" y="954" class="nm">2.7.1.40</text><text x="116" y="954" class="ds">Core: PKLR</text></g>
<g id="lg2"><rect class="rb" x="12" y="959" width="87" height="25"/><text x="15" y="980" class="nm">1.17.4.1</text><text x="116" y="980" class="ds">Core: RRM1, RRM2, RRM2B</text></g>
<g id="lg3"><rect class="rb" x="12" y="985" width="87" height="25"/><text x="15" y="1006" class="nm">2.7.4.6</text><text x="116" y="1006" class="ds">Core: NME6; Non_core: NME1, NME2, NME3, NME7</text></g>
<g id="lg4"><rect class="bb" x="12" y="1011" width="87" height="25"/><text x="15" y="1032" class="nm">2.7.4.3</text><text x="116" y="1032" class="ds">Non_core: AK5</text></g>
<g id="lg5"><rect class="bb" x="12" y="1037" width="87" height="25"/><text x="15" y="1058" class="nm">2.7.4.8</text><text x="116" y="1058" class="ds">Non_core: GUK1</text></g>
<g id="lg6"><rect class="bb" x="12" y="1063" width="87" height="25"/><text x="15" y="1084" class="nm">2.4.2.1</text><text x="116" y="1084" class="ds">Non_core: PNP</text></g>
<g id="lg7"><rect class="bb" x="12" y="1089" width="87" height="25"/><text x="15" y="1110" class="nm">3.6.1.17</text><text x="116" y="1110" class="ds">Non_core: NUDT2</text></g>
<g id="lg8"><rect class="bb" x="12" y="1115" width="87" height="25"/><text x="15" y="1136" class="nm">6.3.4.4</text><text x="116" y="1136" class="ds">Non_core: ADSS1, ADSS2</text></g>
<g id="lg9"><rect class="bb" x="12" y="1141" width="87" height="25"/><text x="15" y="1162" class="nm">1.7.1.7</text><text x="116" y="1162" class="ds">Non_core: GMPR, GMPR2</text></g>
</g>
</svg>
